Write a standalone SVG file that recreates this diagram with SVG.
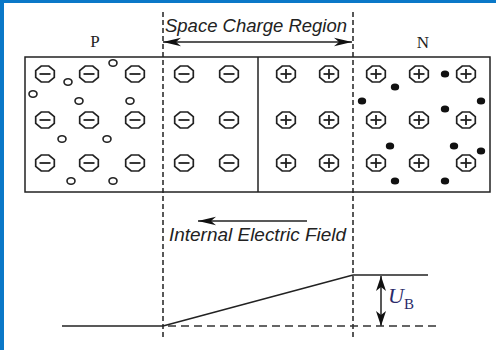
<svg xmlns="http://www.w3.org/2000/svg" xmlns:xlink="http://www.w3.org/1999/xlink" width="496" height="350" viewBox="0 0 496 350">
<style>
.ln{stroke:#222;stroke-width:1.5;fill:none}
.sg{stroke:#222;stroke-width:1.8;fill:none}
.ion{fill:none;stroke:#222;stroke-width:1.7}
.hole{fill:none;stroke:#222;stroke-width:1.6}
.el{fill:#111}
.dv{stroke:#222;stroke-width:1.5;stroke-dasharray:5,3;fill:none}
.dh{stroke:#333;stroke-width:1.5;stroke-dasharray:8,5;fill:none}
.lbl{font-family:"Liberation Sans",Arial,sans-serif;font-style:italic;fill:#222}
.pn{font-family:"Liberation Serif","Times New Roman",serif;font-size:17px;fill:#222}
</style>
<defs>
<marker id="ah" markerUnits="userSpaceOnUse" markerWidth="20" markerHeight="10" viewBox="0 0 20 10" refX="18" refY="5" orient="auto-start-reverse">
<path d="M0,0.8 L18,5 L0,9.2 L5,5 Z" fill="#111"/>
</marker>
<marker id="ahs" markerUnits="userSpaceOnUse" markerWidth="16" markerHeight="12" viewBox="0 0 16 12" refX="15" refY="6" orient="auto-start-reverse">
<path d="M0,1 L15,6 L0,11 L4,6 Z" fill="#111"/>
</marker>
<polygon id="oct" class="ion" points="9.3,3.3 3.8,8 -3.8,8 -9.3,3.3 -9.3,-3.3 -3.8,-8 3.8,-8 9.3,-3.3"/>
<g id="neg"><use xlink:href="#oct"/><line class="sg" x1="-5.5" y1="0" x2="5.5" y2="0"/></g>
<g id="pos"><use xlink:href="#oct"/><line class="sg" x1="-5.5" y1="0" x2="5.5" y2="0"/><line class="sg" x1="0" y1="-5" x2="0" y2="5"/></g>
</defs>
<rect x="0" y="0" width="496" height="350" fill="#fff"/>
<rect x="0" y="0" width="4" height="350" fill="#0a78c8"/>
<rect x="0" y="0" width="496" height="3" fill="#0a78c8"/>

<g id="junction">
<rect class="ln" x="25" y="57" width="465" height="135"/>
<line class="ln" x1="258" y1="57" x2="258" y2="192"/>
</g>

<text class="pn" x="95" y="47" text-anchor="middle">P</text>
<text class="pn" x="423" y="48" text-anchor="middle">N</text>

<g id="acceptors">
<use xlink:href="#neg" x="45" y="74"/><use xlink:href="#neg" x="89" y="74"/><use xlink:href="#neg" x="135" y="74"/><use xlink:href="#neg" x="184" y="74"/><use xlink:href="#neg" x="229" y="74"/>
<use xlink:href="#neg" x="45" y="120"/><use xlink:href="#neg" x="89" y="120"/><use xlink:href="#neg" x="135" y="120"/><use xlink:href="#neg" x="184" y="120"/><use xlink:href="#neg" x="229" y="120"/>
<use xlink:href="#neg" x="45" y="163"/><use xlink:href="#neg" x="89" y="163"/><use xlink:href="#neg" x="135" y="163"/><use xlink:href="#neg" x="184" y="163"/><use xlink:href="#neg" x="229" y="163"/>
</g>
<g id="donors">
<use xlink:href="#pos" x="286" y="74"/><use xlink:href="#pos" x="329" y="74"/><use xlink:href="#pos" x="376" y="74"/><use xlink:href="#pos" x="419" y="74"/><use xlink:href="#pos" x="466" y="74"/>
<use xlink:href="#pos" x="286" y="120"/><use xlink:href="#pos" x="329" y="120"/><use xlink:href="#pos" x="376" y="120"/><use xlink:href="#pos" x="419" y="120"/><use xlink:href="#pos" x="466" y="120"/>
<use xlink:href="#pos" x="286" y="163"/><use xlink:href="#pos" x="329" y="163"/><use xlink:href="#pos" x="376" y="163"/><use xlink:href="#pos" x="419" y="163"/><use xlink:href="#pos" x="466" y="163"/>
</g>
<g id="holes">
<ellipse class="hole" cx="68" cy="82" rx="4" ry="3.3"/>
<ellipse class="hole" cx="113" cy="63" rx="4" ry="3.3"/>
<ellipse class="hole" cx="33" cy="94" rx="4" ry="3.3"/>
<ellipse class="hole" cx="79" cy="101" rx="4" ry="3.3"/>
<ellipse class="hole" cx="130" cy="101" rx="4" ry="3.3"/>
<ellipse class="hole" cx="62" cy="139" rx="4" ry="3.3"/>
<ellipse class="hole" cx="107" cy="139" rx="4" ry="3.3"/>
<ellipse class="hole" cx="71" cy="181" rx="4" ry="3.3"/>
<ellipse class="hole" cx="113" cy="181" rx="4" ry="3.3"/>
</g>
<g id="electrons">
<ellipse class="el" cx="395" cy="87" rx="4.2" ry="3.6"/>
<ellipse class="el" cx="445" cy="74" rx="4.2" ry="3.6"/>
<ellipse class="el" cx="362" cy="101" rx="4.2" ry="3.6"/>
<ellipse class="el" cx="445" cy="109" rx="4.2" ry="3.6"/>
<ellipse class="el" cx="481" cy="101" rx="4.2" ry="3.6"/>
<ellipse class="el" cx="390" cy="146" rx="4.2" ry="3.6"/>
<ellipse class="el" cx="454" cy="146" rx="4.2" ry="3.6"/>
<ellipse class="el" cx="481" cy="151" rx="4.2" ry="3.6"/>
<ellipse class="el" cx="395" cy="181" rx="4.2" ry="3.6"/>
<ellipse class="el" cx="445" cy="181" rx="4.2" ry="3.6"/>
</g>

<g id="boundaries">
<line class="dv" x1="163" y1="12" x2="163" y2="337"/>
<line class="dv" x1="353" y1="12" x2="353" y2="337"/>
</g>

<g id="connectors">
<line class="ln" x1="163" y1="42" x2="352" y2="42" marker-start="url(#ah)" marker-end="url(#ah)"/>
<line class="ln" x1="307" y1="221" x2="198" y2="221" marker-end="url(#ah)"/>
<line class="ln" x1="381" y1="276" x2="381" y2="326" marker-start="url(#ahs)" marker-end="url(#ahs)"/>
</g>

<text class="lbl" x="165" y="32" font-size="18" textLength="182" lengthAdjust="spacingAndGlyphs">Space Charge Region</text>
<text class="lbl" x="169" y="241" font-size="18.5" textLength="177" lengthAdjust="spacingAndGlyphs">Internal Electric Field</text>

<g id="potential">
<line class="ln" x1="62" y1="326" x2="163" y2="326"/>
<line class="ln" x1="163" y1="326" x2="353" y2="275"/>
<line class="ln" x1="353" y1="275" x2="428" y2="275"/>
<line class="dh" x1="168" y1="326" x2="438" y2="326"/>
</g>
<text x="388" y="303" font-family="'Liberation Serif','Times New Roman',serif" font-style="italic" font-size="22" fill="#2a2a6a">U</text>
<text x="404" y="309" font-family="'Liberation Serif','Times New Roman',serif" font-size="15" fill="#2a2a6a">B</text>
</svg>
